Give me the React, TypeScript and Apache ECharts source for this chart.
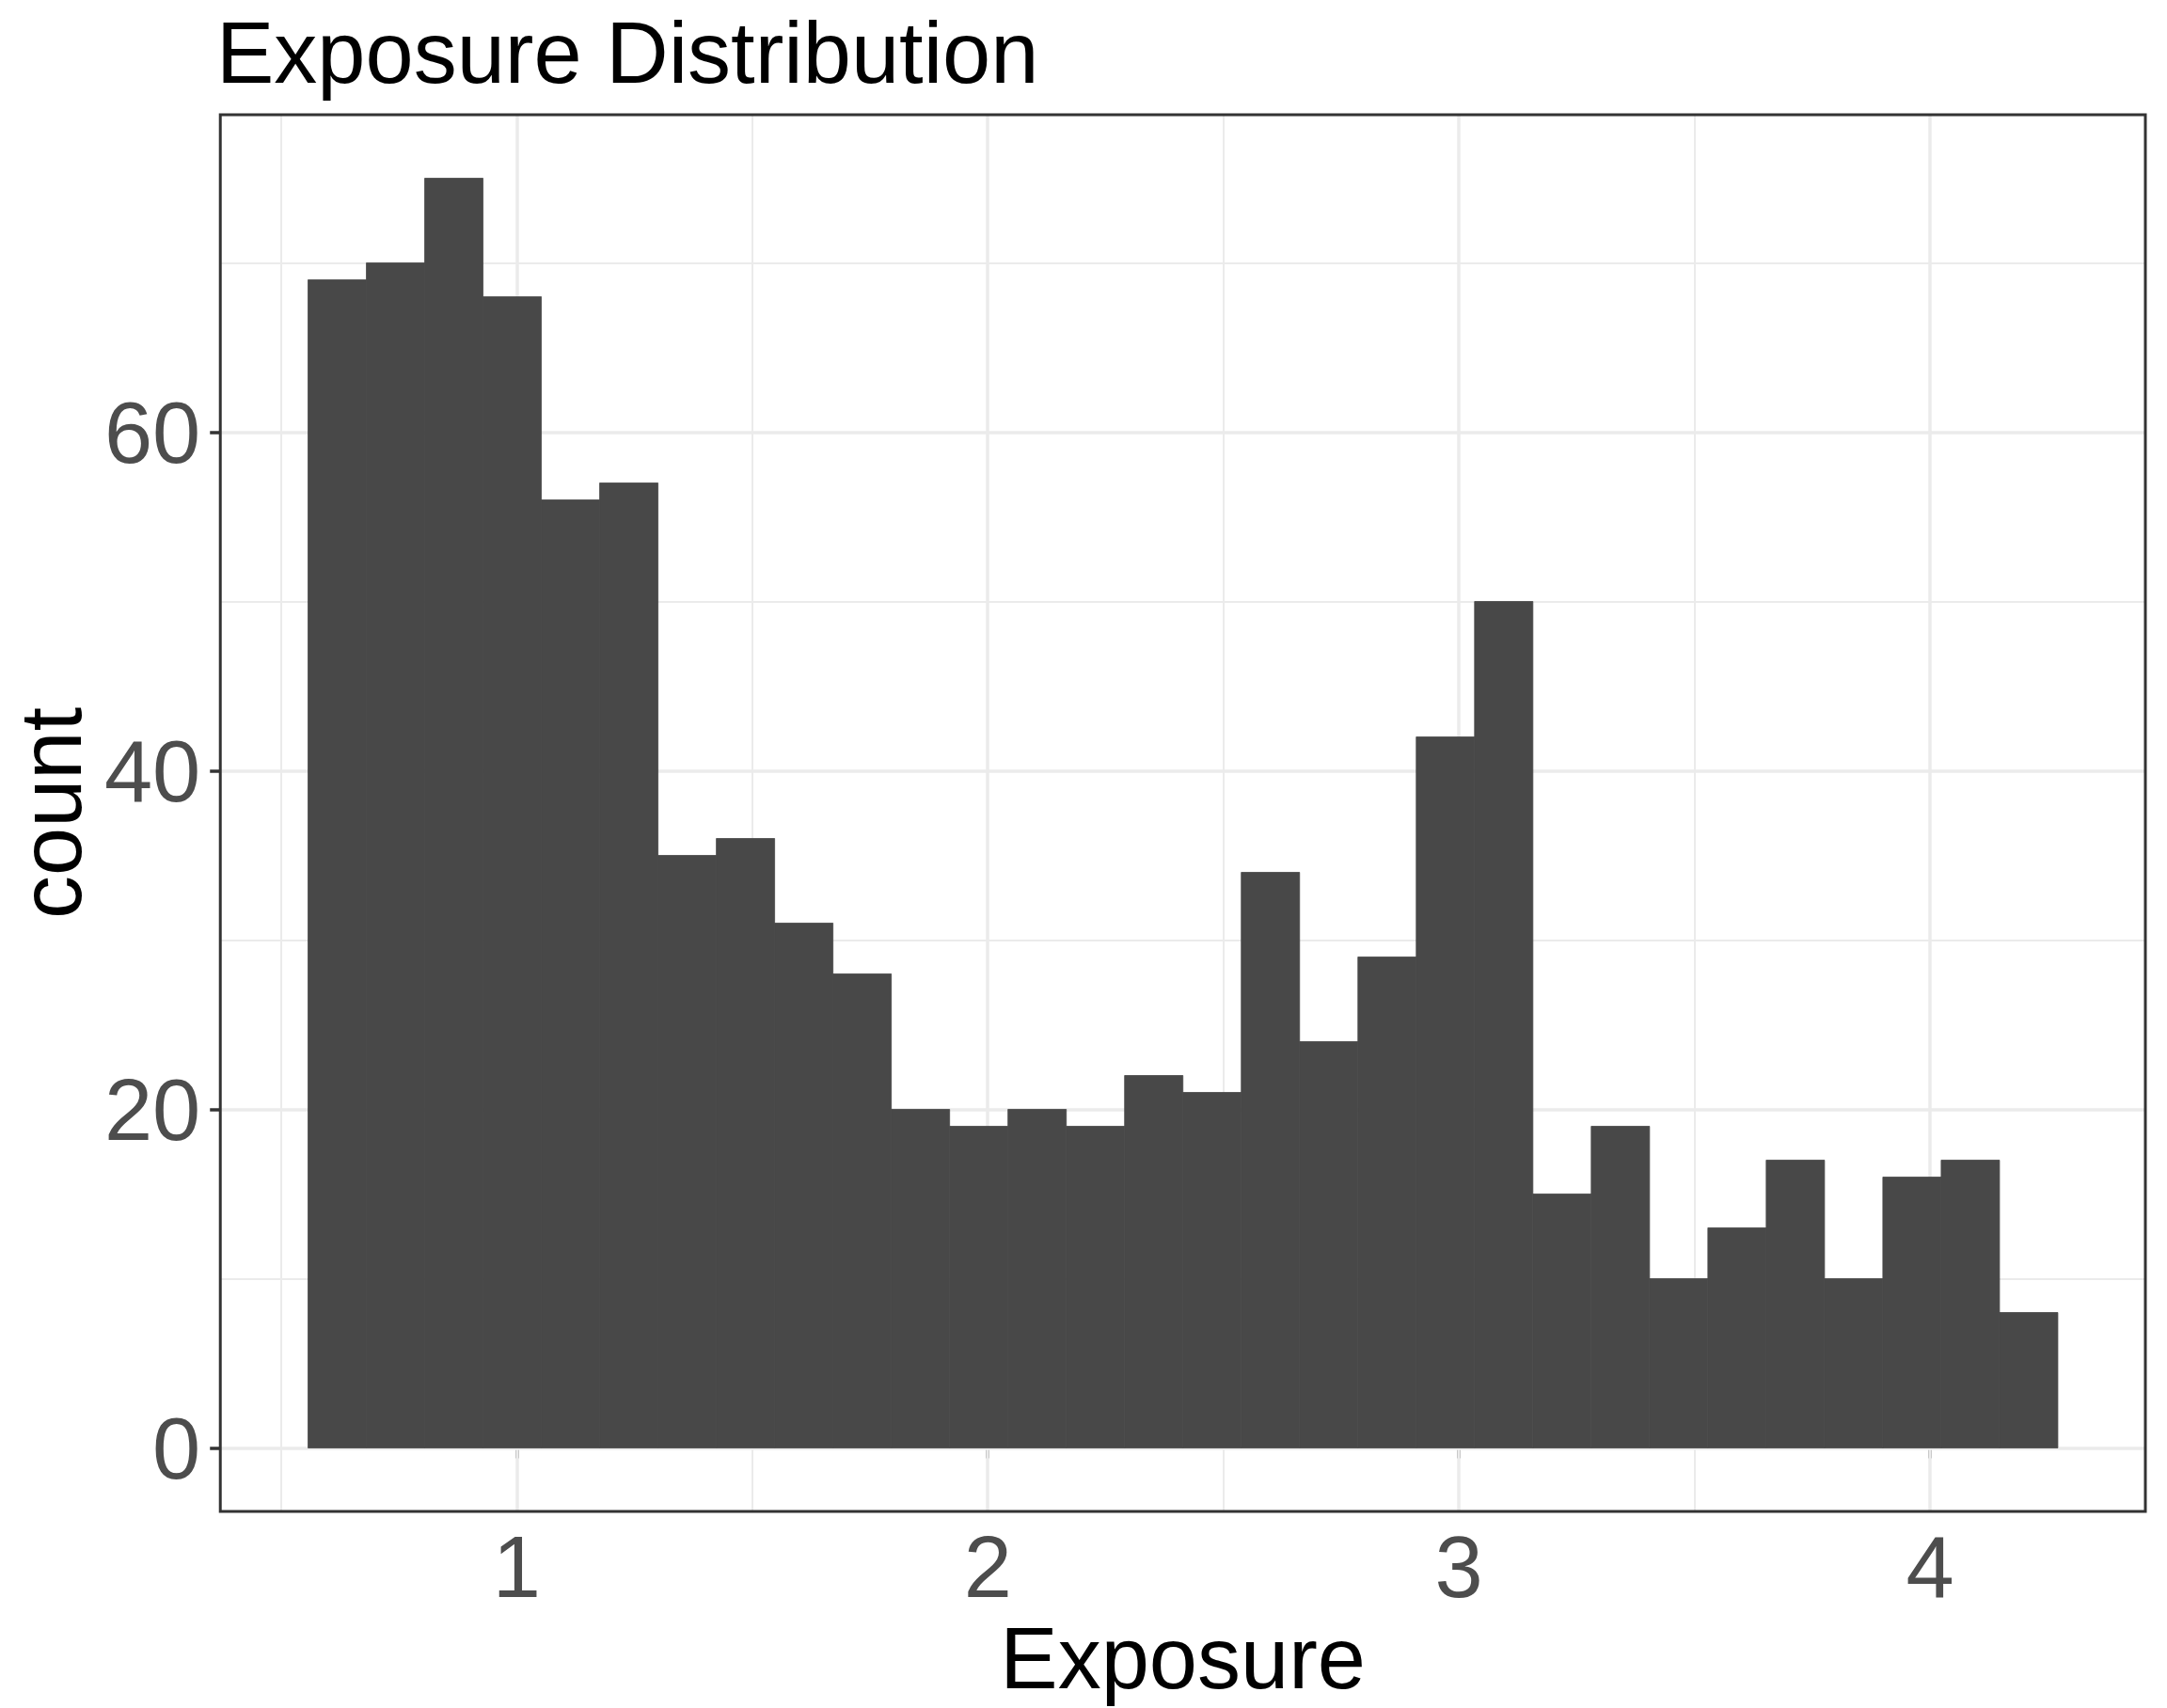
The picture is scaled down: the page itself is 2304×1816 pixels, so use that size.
import React, { useEffect, useRef } from "react";
import * as echarts from "echarts";

const TITLE = "Exposure Distribution";
const X_NAME = "Exposure";
const Y_NAME = "count";

// histogram: first bin edge, bin width, counts
const BIN_START = 0.5572;
const BIN_WIDTH = 0.1238;
const COUNTS = [69, 70, 75, 68, 56, 57, 35, 36, 31, 28, 20, 19, 20, 19, 22, 21, 34, 24, 29, 42, 50, 15, 19, 10, 13, 17, 10, 16, 17, 8];

const X_MIN = 0.371;
const X_MAX = 4.457;
const Y_MIN = -3.75;
const Y_MAX = 78.75;

const X_TICKS = [1, 2, 3, 4];
const Y_TICKS = [0, 20, 40, 60];
const X_MINOR = [0.5, 1.5, 2.5, 3.5];
const Y_MINOR = [10, 30, 50, 70];

const FONT = "'Liberation Sans', Arial, Helvetica, sans-serif";
const BAR_COLOR = "#484848";

export default function App() {
  const ref = useRef<HTMLDivElement>(null);
  useEffect(() => {
    if (!ref.current) return;
    const chart = echarts.init(ref.current, null, { renderer: "svg" });
    const bins = COUNTS.map((c, i) => [BIN_START + i * BIN_WIDTH, BIN_START + (i + 1) * BIN_WIDTH, c]);
    const major = { color: "#EBEBEB", width: 3.5, type: "solid" };
    const minor = { color: "#EBEBEB", width: 2, type: "solid" };
    const gridLines = [
      ...X_MINOR.map((v) => ({ xAxis: v, lineStyle: minor })),
      ...Y_MINOR.map((v) => ({ yAxis: v, lineStyle: minor })),
      ...X_TICKS.map((v) => ({ xAxis: v, lineStyle: major })),
      ...Y_TICKS.map((v) => ({ yAxis: v, lineStyle: major })),
    ];
    chart.setOption({
      animation: false,
      backgroundColor: "#FFFFFF",
      title: {
        text: TITLE,
        left: 230,
        top: 10,
        padding: 0,
        textStyle: { fontSize: 92, fontWeight: "normal", color: "#000000", fontFamily: FONT },
      },
      grid: {
        show: true,
        z: 3,
        left: 233,
        right: 23,
        top: 122,
        bottom: 209,
        backgroundColor: "transparent",
        borderColor: "#333333",
        borderWidth: 3,
      },
      xAxis: {
        type: "value",
        min: X_MIN,
        max: X_MAX,
        name: X_NAME,
        nameLocation: "middle",
        nameGap: 98,
        nameTextStyle: { fontSize: 92, color: "#000000", fontFamily: FONT },
        axisLine: { show: false },
        splitLine: { show: false },
        axisTick: { show: true, length: 11, customValues: X_TICKS, lineStyle: { color: "#333333", width: 3.5 } },
        axisLabel: { customValues: X_TICKS, margin: 13, fontSize: 92, color: "#4D4D4D", fontFamily: FONT },
      },
      yAxis: {
        type: "value",
        min: Y_MIN,
        max: Y_MAX,
        name: Y_NAME,
        nameLocation: "middle",
        nameGap: 131,
        nameTextStyle: { fontSize: 92, color: "#000000", fontFamily: FONT },
        axisLine: { show: false },
        splitLine: { show: false },
        axisTick: { show: true, length: 11, customValues: Y_TICKS, lineStyle: { color: "#333333", width: 3.5 } },
        axisLabel: { customValues: Y_TICKS, margin: 21, fontSize: 92, color: "#4D4D4D", fontFamily: FONT },
      },
      series: [
        {
          type: "custom",
          z: 2,
          data: bins,
          encode: { x: [0, 1], y: 2 },
          renderItem: (params: any, api: any) => {
            const p0 = api.coord([api.value(0), api.value(2)]);
            const p1 = api.coord([api.value(1), 0]);
            return {
              type: "rect",
              shape: { x: p0[0], y: p0[1], width: p1[0] - p0[0], height: p1[1] - p0[1] },
              style: { fill: BAR_COLOR, stroke: BAR_COLOR, lineWidth: 0.8 },
            };
          },
          markLine: {
            silent: true,
            z: 1,
            symbol: ["none", "none"],
            label: { show: false },
            emphasis: { disabled: true },
            animation: false,
            data: gridLines,
          },
        },
      ],
    });
    return () => chart.dispose();
  }, []);
  return <div ref={ref} style={{ position: "absolute", left: 0, top: 0, width: 2304, height: 1816 }} />;
}
